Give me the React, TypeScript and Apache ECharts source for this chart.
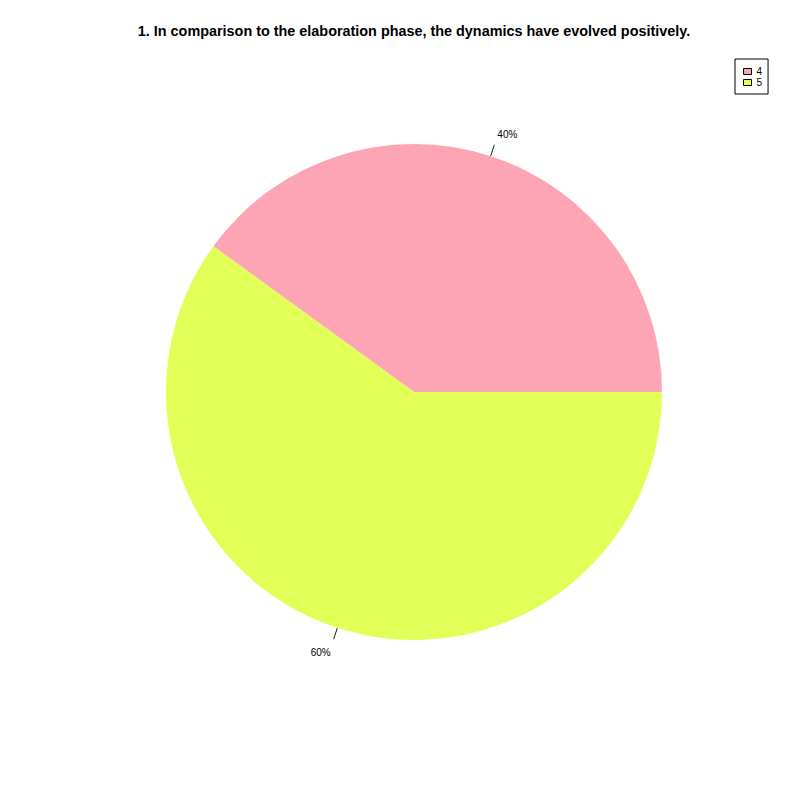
import React, { useEffect, useRef } from "react";
import * as echarts from "echarts";

const titleText = "1. In comparison to the elaboration phase, the dynamics have evolved positively.";
const categories = ["4", "5"];
const values = [40, 60];
const colors = ["#FEA5B5", "#E1FF57"];

export default function App() {
  const ref = useRef<HTMLDivElement>(null);
  useEffect(() => {
    if (!ref.current) return;
    const chart = echarts.init(ref.current, null, { renderer: "svg" });
    const total = values.reduce((a, b) => a + b, 0);
    chart.setOption({
      animation: false,
      backgroundColor: "#ffffff",
      title: {
        text: titleText,
        left: 409,
        textAlign: "center",
        top: 19,
        textStyle: {
          fontFamily: "Liberation Sans, Arial, sans-serif",
          fontSize: 14.4,
          fontWeight: "bold",
          color: "#000",
        },
      },
      legend: {
        orient: "vertical",
        left: 735,
        top: 59,
        padding: [7, 6, 6, 8],
        borderColor: "#000",
        borderWidth: 1,
        itemWidth: 8,
        itemHeight: 6,
        itemGap: 0,
        itemTextGap: 10,
        icon: "rect",
        selectedMode: false,
        itemStyle: { borderColor: "#000", borderWidth: 1 },
        textStyle: {
          fontFamily: "Liberation Sans, Arial, sans-serif",
          fontSize: 10,
          lineHeight: 11,
          color: "#000",
        },
        data: categories,
      },
      series: [
        {
          type: "pie",
          center: [414, 392],
          radius: [0, 248],
          startAngle: 0,
          clockwise: false,
          avoidLabelOverlap: false,
          silent: true,
          emphasis: { disabled: true },
          itemStyle: { borderWidth: 0 },
          label: {
            show: true,
            position: "outside",
            distanceToLabelLine: 3,
            fontFamily: "Liberation Sans, Arial, sans-serif",
            fontSize: 10,
            color: "#000",
            formatter: (p: any) => "{t|" + Math.round((p.value / total) * 100) + "%}",
          },
          labelLine: {
            show: true,
            length: 12,
            length2: 0,
            lineStyle: { color: "#222", width: 1 },
          },
          data: categories.map((c, i) => ({
            name: c,
            value: values[i],
            itemStyle: { color: colors[i] },
            label: {
              rich: {
                t: {
                  fontFamily: "Liberation Sans, Arial, sans-serif",
                  fontSize: 10,
                  color: "#000",
                  padding: i === 0 ? [0, 0, 20, 0] : [26, 0, 0, 0],
                },
              },
            },
          })),
        },
      ],
    });
    return () => chart.dispose();
  }, []);
  return (
    <div
      ref={ref}
      style={{ position: "absolute", left: 0, top: 0, width: 800, height: 800 }}
    />
  );
}
